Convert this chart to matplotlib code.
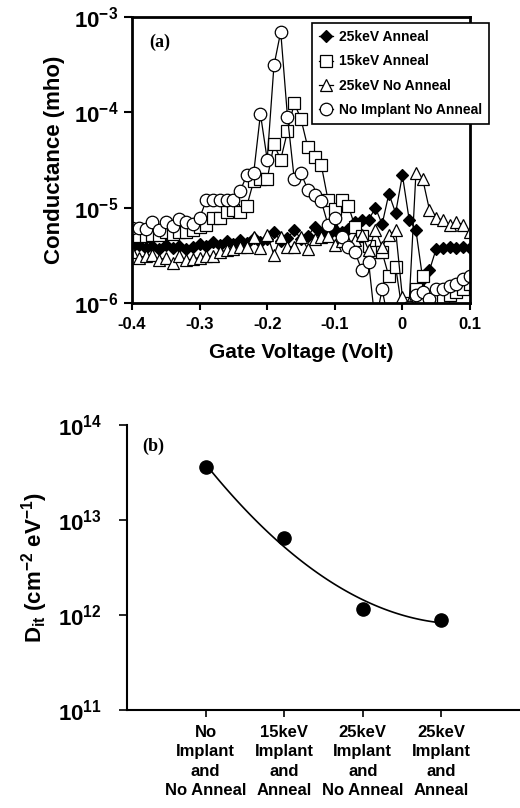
import numpy as np
import matplotlib
matplotlib.use("Agg")
import matplotlib.pyplot as plt
from matplotlib.ticker import NullLocator

plt.rcParams['font.family'] = ['Liberation Sans', 'DejaVu Sans']
plt.rcParams['font.weight'] = 'bold'
plt.rcParams['mathtext.fontset'] = 'custom'
plt.rcParams['mathtext.rm'] = 'Liberation Sans:bold'
plt.rcParams['mathtext.bf'] = 'Liberation Sans:bold'
plt.rcParams['mathtext.default'] = 'bf'

# --- panel (a): conductance vs gate voltage ---
voltaje = [-0.40, -0.39, -0.38, -0.37, -0.36, -0.35, -0.34, -0.33, -0.32, -0.31,
           -0.30, -0.29, -0.28, -0.27, -0.26, -0.25, -0.24, -0.23, -0.22, -0.21,
           -0.20, -0.19, -0.18, -0.17, -0.16, -0.15, -0.14, -0.13, -0.12, -0.11,
           -0.10, -0.09, -0.08, -0.07, -0.06, -0.05, -0.04, -0.03, -0.02, -0.01,
           0.00, 0.01, 0.02, 0.03, 0.04, 0.05, 0.06, 0.07, 0.08, 0.09, 0.10]

g_25kev_anneal = [3.9e-6, 4.1e-6, 3.8e-6, 4.0e-6, 3.7e-6, 4.1e-6, 3.8e-6, 4.0e-6, 3.7e-6, 3.9e-6,
                  4.2e-6, 4.0e-6, 4.4e-6, 4.1e-6, 4.5e-6, 4.2e-6, 4.6e-6, 4.3e-6, 4.8e-6, 4.4e-6,
                  4.7e-6, 5.5e-6, 4.5e-6, 4.8e-6, 5.8e-6, 4.7e-6, 5.0e-6, 6.3e-6, 5.4e-6, 5.2e-6,
                  5.8e-6, 5.5e-6, 6.0e-6, 7.0e-6, 7.4e-6, 7.4e-6, 1.0e-5, 6.7e-6, 1.4e-5, 8.8e-6,
                  2.2e-5, 7.5e-6, 5.8e-6, 1.8e-6, 2.2e-6, 3.7e-6, 3.8e-6, 3.9e-6, 3.8e-6, 3.9e-6, 3.8e-6]

g_15kev_anneal = [5.5e-6, 5.0e-6, 5.0e-6, 5.2e-6, 5.2e-6, 5.5e-6, 5.3e-6, 5.5e-6, 5.6e-6, 5.8e-6,
                  6.2e-6, 6.6e-6, 7.8e-6, 7.8e-6, 9.0e-6, 9.5e-6, 9.0e-6, 1.05e-5, 1.9e-5, 2.0e-5,
                  2.0e-5, 4.6e-5, 3.2e-5, 6.3e-5, 1.25e-4, 8.5e-5, 4.3e-5, 3.4e-5, 2.8e-5, 1.2e-5,
                  9.8e-6, 1.2e-5, 1.05e-5, 6.3e-6, 5.0e-6, 4.0e-6, 3.4e-6, 3.4e-6, 1.9e-6, 2.4e-6,
                  8e-7, 1.0e-6, 1.4e-6, 1.9e-6, 8e-7, 1.1e-6, 1.15e-6, 1.2e-6, 1.3e-6, 1.4e-6, 1.6e-6]

g_25kev_no_anneal = [3.4e-6, 3.0e-6, 3.1e-6, 3.2e-6, 2.8e-6, 3.0e-6, 2.6e-6, 3.1e-6, 2.8e-6, 2.9e-6,
                     3.0e-6, 3.1e-6, 3.1e-6, 3.4e-6, 3.6e-6, 3.7e-6, 3.9e-6, 3.9e-6, 4.9e-6, 3.8e-6,
                     5.2e-6, 3.2e-6, 4.9e-6, 3.9e-6, 3.9e-6, 4.9e-6, 3.7e-6, 4.7e-6, 4.9e-6, 5.0e-6,
                     4.1e-6, 4.5e-6, 4.3e-6, 4.6e-6, 5.2e-6, 3.6e-6, 5.8e-6, 3.9e-6, 5.2e-6, 5.8e-6,
                     1.15e-6, 1.0e-6, 2.3e-5, 2.0e-5, 9.5e-6, 7.8e-6, 7.4e-6, 6.6e-6, 7.1e-6, 6.6e-6, 5.6e-6]

g_no_implant = [6.1e-6, 6.1e-6, 6.0e-6, 7.1e-6, 5.9e-6, 7.1e-6, 6.5e-6, 7.6e-6, 7.1e-6, 6.8e-6,
                7.8e-6, 1.2e-5, 1.2e-5, 1.2e-5, 1.2e-5, 1.2e-5, 1.5e-5, 2.2e-5, 2.3e-5, 9.6e-5,
                3.2e-5, 3.1e-4, 7.0e-4, 9.0e-5, 2.0e-5, 2.3e-5, 1.55e-5, 1.35e-5, 1.17e-5, 6.6e-6,
                7.8e-6, 4.9e-6, 3.9e-6, 3.4e-6, 2.2e-6, 2.7e-6, 6e-7, 1.4e-6, 6e-7, 8e-7,
                6e-7, 9e-7, 1.2e-6, 1.3e-6, 1.1e-6, 1.4e-6, 1.4e-6, 1.5e-6, 1.6e-6, 1.8e-6, 1.9e-6]

xticks_a = [-0.4, -0.3, -0.2, -0.1, 0.0, 0.1]
xticklabels_a = ['-0.4', '-0.3', '-0.2', '-0.1', '0', '0.1']
yticks_a = [1e-6, 1e-5, 1e-4, 1e-3]
yticklabels_a = ['$10^{-6}$', '$10^{-5}$', '$10^{-4}$', '$10^{-3}$']

# --- panel (b): Dit per sample ---
muestras = ['No\nImplant\nand\nNo Anneal', '15keV\nImplant\nand\nAnneal',
            '25keV\nImplant\nand\nNo Anneal', '25keV\nImplant\nand\nAnneal']
dit = [3.6e13, 6.5e12, 1.16e12, 8.9e11]
yticks_b = [1e11, 1e12, 1e13, 1e14]
yticklabels_b = ['$10^{11}$', '$10^{12}$', '$10^{13}$', '$10^{14}$']

fig = plt.figure(figsize=(5.2, 8.08), dpi=100)

# Panel (a)
ax1 = fig.add_axes([132/520, 1-303/808, 338/520, 286/808])
ax1.set_yscale('log')
estilo = dict(color='black', linewidth=0.9, markeredgecolor='black', markeredgewidth=0.9)
ax1.plot(voltaje, g_25kev_anneal, marker='D', markersize=6.5, markerfacecolor='black',
         label='25keV Anneal', **estilo)
ax1.plot(voltaje, g_15kev_anneal, marker='s', markersize=8.5, markerfacecolor='white',
         label='15keV Anneal', **estilo)
ax1.plot(voltaje, g_25kev_no_anneal, marker='^', markersize=9, markerfacecolor='white',
         label='25keV No Anneal', **estilo)
ax1.plot(voltaje, g_no_implant, marker='o', markersize=9, markerfacecolor='white',
         label='No Implant No Anneal', **estilo)
ax1.set_xlim(-0.4, 0.1)
ax1.set_ylim(1e-6, 1e-3)
ax1.set_xticks(xticks_a)
ax1.set_xticklabels(xticklabels_a)
ax1.set_yticks(yticks_a)
ax1.set_yticklabels(yticklabels_a)
ax1.yaxis.set_minor_locator(NullLocator())
ax1.tick_params(axis='x', direction='out', length=5, width=1.5, labelsize=12, pad=5)
ax1.tick_params(axis='y', direction='out', length=6, width=1.5, labelsize=16, pad=4)
for s in ax1.spines.values():
    s.set_linewidth(2)
ax1.set_xlabel('Gate Voltage (Volt)', fontsize=15, fontweight='bold', labelpad=8)
ax1.set_ylabel('Conductance (mho)', fontsize=16, fontweight='bold', labelpad=6)
ax1.text(0.05, 0.91, '(a)', transform=ax1.transAxes, fontsize=13, fontweight='bold',
         family='Liberation Serif', ha='left', va='center')
leg = ax1.legend(loc='upper right', bbox_to_anchor=(1.056, 0.979), borderaxespad=0,
                 fancybox=False, framealpha=1, edgecolor='black',
                 handlelength=1.0, handletextpad=0.4, labelspacing=0.75,
                 borderpad=0.5, prop={'weight': 'bold', 'size': 10})
leg.get_frame().set_linewidth(1.2)

# Panel (b)
ax2 = fig.add_axes([127/520, 1-710/808, 393/520, 285/808])
ax2.set_yscale('log')
posiciones = np.arange(1, len(dit) + 1)
ax2.plot(posiciones, dit, 'o', color='black', markersize=9.5)
# tendencia ajustada sobre log10(Dit)
coef = np.polyfit(posiciones, np.log10(dit), 2)
xs = np.linspace(posiciones[0], posiciones[-1], 100)
ax2.plot(xs, 10 ** np.polyval(coef, xs), color='black', linewidth=1.2)
ax2.set_xlim(0, 5)
ax2.set_ylim(1e11, 1e14)
ax2.set_xticks(posiciones)
ax2.set_xticklabels(muestras, fontsize=12, linespacing=1.35)
ax2.set_yticks(yticks_b)
ax2.set_yticklabels(yticklabels_b)
ax2.yaxis.set_minor_locator(NullLocator())
ax2.spines['top'].set_visible(False)
ax2.spines['right'].set_visible(False)
ax2.spines['left'].set_linewidth(1.5)
ax2.spines['bottom'].set_linewidth(1.5)
ax2.tick_params(axis='x', direction='out', length=5, width=1.2, pad=6)
ax2.tick_params(axis='y', direction='out', length=6, width=1.2, labelsize=16, pad=12)
ax2.set_ylabel('D$_{it}$ (cm$^{-2}$ eV$^{-1}$)', fontsize=16, fontweight='bold', labelpad=6)
ax2.text(0.04, 0.925, '(b)', transform=ax2.transAxes, fontsize=13, fontweight='bold',
         family='Liberation Serif', ha='left', va='center')

fig.savefig('out.png', dpi=100)
